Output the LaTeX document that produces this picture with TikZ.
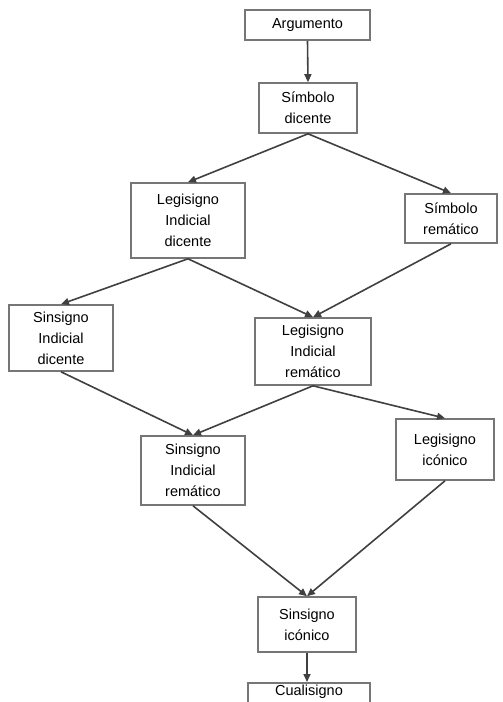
\documentclass[tikz,border=0pt]{standalone}
\usepackage{fontspec}
\setmainfont{Liberation Sans}
\usetikzlibrary{arrows.meta}
\definecolor{boxline}{HTML}{767676}
\definecolor{arrowline}{HTML}{404040}
\tikzset{
  signbox/.style={draw=boxline, line width=1.6pt, fill=white, align=center,
    inner sep=0pt, font=\fontsize{14.5}{21}\selectfont},
  link/.style={draw=arrowline, line width=1.6pt,
    -{Triangle[length=8pt,width=7pt]}, shorten >=0pt}
}
\begin{document}
\begin{tikzpicture}[x=1pt,y=-1pt]
  \useasboundingbox (0,0) rectangle (503,702);
  \clip (0,0) rectangle (503,702);
  % nodes: center position and box size
  \node[signbox, minimum width=125pt, minimum height=30pt] (arg) at (307.5,25) {Argumento};
  \node[signbox, minimum width=98pt, minimum height=50pt] (sd) at (308,108) {Símbolo\\dicente};
  \node[signbox, minimum width=114pt, minimum height=75pt] (lid) at (188,220.5) {Legisigno\\Indicial\\dicente};
  \node[signbox, minimum width=92pt, minimum height=49pt] (sr) at (451,218.5) {Símbolo\\remático};
  \node[signbox, minimum width=104pt, minimum height=66pt] (sid) at (61,338) {Sinsigno\\Indicial\\dicente};
  \node[signbox, minimum width=116pt, minimum height=67pt] (lir) at (313,351.5) {Legisigno\\Indicial\\remático};
  \node[signbox, minimum width=104pt, minimum height=69pt] (sir) at (193,470.5) {Sinsigno\\Indicial\\remático};
  \node[signbox, minimum width=98pt, minimum height=61pt] (li) at (445,449.5) {Legisigno\\icónico};
  \node[signbox, minimum width=98pt, minimum height=55pt] (si) at (307,624.5) {Sinsigno\\icónico};
  % bottom box runs past the lower edge of the page
  \node[signbox, minimum width=122pt, minimum height=40pt, anchor=north] (cu) at (309,682) {};
  \node[font=\fontsize{14.5}{21}\selectfont] (cut) at (309,692) {Cualisigno};
  % connectors
  \draw[link] (arg.south) -- (sd.north);
  \draw[link] (sd.south) -- (lid.north);
  \draw[link] (sd.south) -- (sr.north);
  \draw[link] (lid.south) -- (sid.north);
  \draw[link] (lid.south) -- (lir.north);
  \draw[link] (sr.south) -- (lir.north);
  \draw[link] (sid.south) -- (sir.north);
  \draw[link] (lir.south) -- (sir.north);
  \draw[link] (lir.south) -- (li.north);
  \draw[link] (sir.south) -- (si.north);
  \draw[link] (li.south) -- (si.north);
  \draw[link] (si.south) -- (si.south |- cu.north);
\end{tikzpicture}
\end{document}
